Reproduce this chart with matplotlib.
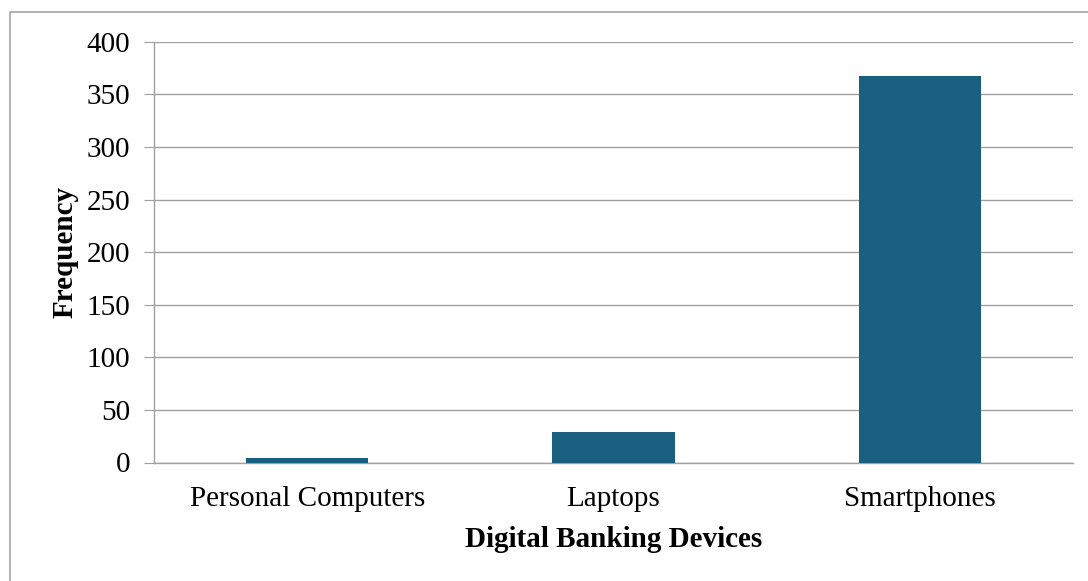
import matplotlib
matplotlib.use("Agg")
import matplotlib.pyplot as plt
from matplotlib.patches import Rectangle

categories = ["Personal Computers", "Laptops", "Smartphones"]
frequency = [4, 29, 367]
y_ticks = [0, 50, 100, 150, 200, 250, 300, 350, 400]

W, H, DPI = 1088, 581, 100
plt.rcParams["font.family"] = ["Liberation Serif", "DejaVu Serif"]

fig = plt.figure(figsize=(W / DPI, H / DPI), dpi=DPI)
fig.patch.set_facecolor("white")

# outer frame
fig.patches.append(Rectangle((10 / W, -0.01), 1.05, 1 - 12 / H + 0.01,
                             transform=fig.transFigure, fill=False,
                             edgecolor="#a6a6a6", linewidth=1.2))

left, right, top, bottom = 154, 1073, 41.7, 462.5
ax = fig.add_axes([left / W, 1 - bottom / H, (right - left) / W, (bottom - top) / H])

x = range(len(categories))
ax.bar(x, frequency, width=0.4, color="#185f80", zorder=3)

ax.set_xlim(-0.5, len(categories) - 0.5)
ax.set_ylim(0, 400)
ax.set_yticks(y_ticks)
ax.set_xticks(list(x))
ax.set_xticklabels(categories)
ax.yaxis.grid(True, color="#a0a0a0", linewidth=1.0, zorder=0)
ax.set_axisbelow(True)

for s in ["top", "right"]:
    ax.spines[s].set_visible(False)
ax.spines["left"].set_color("#a0a0a0")
ax.spines["bottom"].set_color("#a0a0a0")
ax.spines["left"].set_linewidth(1.0)
ax.spines["bottom"].set_linewidth(1.0)

ax.tick_params(axis="y", length=7, color="#a0a0a0", labelsize=21, pad=10)
ax.tick_params(axis="x", length=0, labelsize=21, pad=17)

ax.set_xlabel("Digital Banking Devices", fontsize=21, fontweight="bold", labelpad=10)
ax.set_ylabel("Frequency", fontsize=21, fontweight="bold", labelpad=6)

fig.savefig("out.png", dpi=DPI)
